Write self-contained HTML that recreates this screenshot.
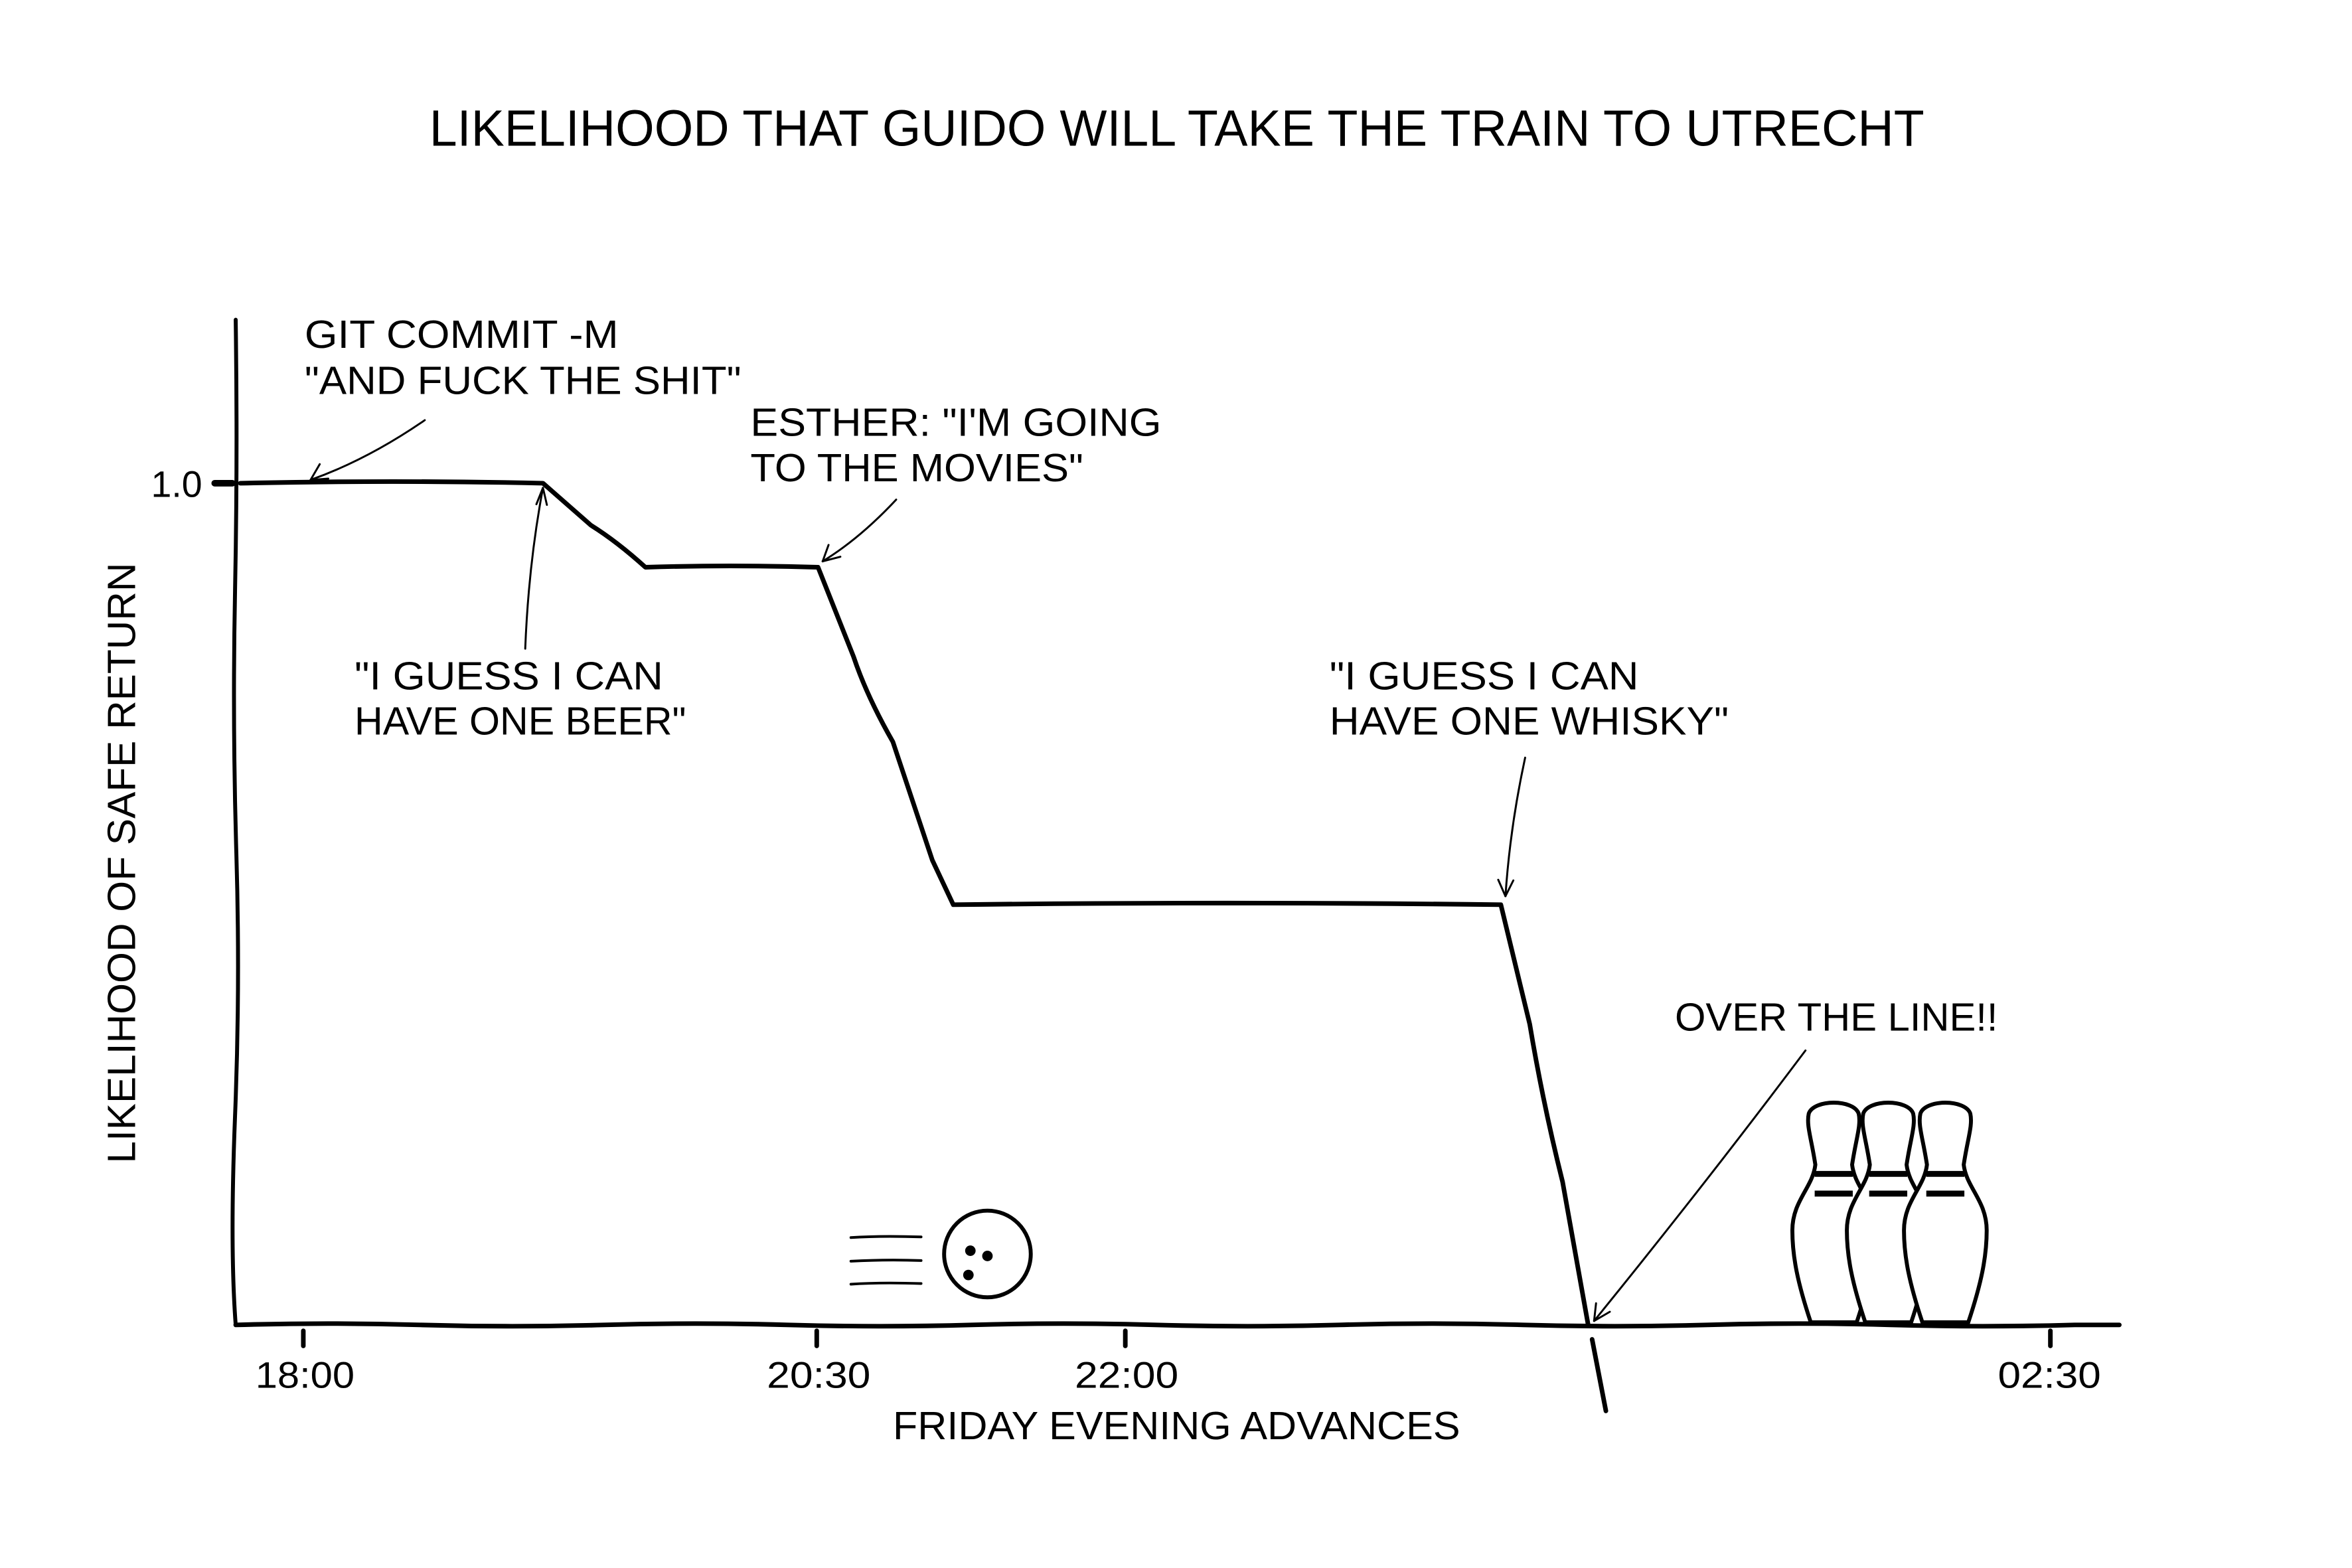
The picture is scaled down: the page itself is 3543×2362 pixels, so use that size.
<!DOCTYPE html>
<html><head><meta charset="utf-8"><style>
html,body{margin:0;padding:0;background:#fff;}
svg{display:block;}
text{font-family:"Liberation Sans",sans-serif;fill:#000;}
</style></head><body>
<svg width="3543" height="2362" viewBox="0 0 3543 2362" xmlns="http://www.w3.org/2000/svg">
<rect width="3543" height="2362" fill="#fff"/>
<defs>
<g id="pin">
<path d="M-35,0 C-55,-60 -63,-100 -63,-140 C-63,-185 -32,-205 -28,-240 C-34,-280 -42,-300 -38,-318 C-30,-340 30,-340 38,-318 C42,-300 34,-280 28,-240 C32,-205 63,-185 63,-140 C63,-100 55,-60 35,0 Z" fill="#fff" stroke="#000" stroke-width="6"/>
<path d="M-29,-226 H29 M-29,-196 H29" stroke="#000" stroke-width="9"/>
</g>
</defs>
<g transform="scale(0.989)">
<text x="654" y="222" font-size="78" textLength="2277" lengthAdjust="spacingAndGlyphs">LIKELIHOOD THAT GUIDO WILL TAKE THE TRAIN TO UTRECHT</text>

<g fill="none" stroke="#000" stroke-linecap="round" stroke-linejoin="round">
<path d="M359,487 Q362,700 358,900 T360,1300 T358,1700 T359,2018" stroke-width="6"/>
<path d="M359,2018 Q500,2014 640,2018 T920,2018 T1200,2018 T1480,2018 T1760,2018 T2040,2018 T2320,2018 T2600,2018 T2880,2018 T3160,2018 L3228,2018" stroke-width="7"/>
<path d="M327,736 H354" stroke-width="10"/>
<path d="M462,2027 V2050 M1244,2027 V2050 M1714,2027 V2050 M3123,2027 V2050" stroke-width="7"/>
<path d="M366,736 Q600,731 827,736 L900,800 Q940,825 983,864 Q1110,860 1246,864 L1300,1000 Q1320,1060 1360,1130 L1420,1310 L1452,1378 Q1870,1373 2286,1378 L2330,1560 Q2350,1680 2380,1800 L2419,2018" stroke-width="7"/>
<path d="M2425,2040 L2446,2149" stroke-width="7"/>
<g stroke-width="3">
<path d="M647,640 Q560,700 473,731"/><path d="M473,731 L487,707 M473,731 L500,729"/>
<path d="M800,988 Q805,860 827,743"/><path d="M827,743 L817,768 M827,743 L833,769"/>
<path d="M1365,761 Q1310,820 1253,855"/><path d="M1253,855 L1262,830 M1253,855 L1280,848"/>
<path d="M2323,1154 Q2300,1260 2293,1365"/><path d="M2293,1365 L2282,1340 M2293,1365 L2305,1341"/>
<path d="M2750,1600 Q2600,1800 2428,2012"/><path d="M2428,2012 L2431,1985 M2428,2012 L2452,1998"/>
</g>
<path d="M1296,1885 Q1340,1882 1403,1884 M1296,1921 Q1350,1918 1403,1920 M1296,1956 Q1340,1953 1403,1955" stroke-width="4"/>
<circle cx="1504" cy="1910" r="66" stroke-width="6"/>
</g>
<circle cx="1478" cy="1905" r="8" fill="#000"/>
<circle cx="1504" cy="1913" r="8" fill="#000"/>
<circle cx="1475" cy="1942" r="8" fill="#000"/>

<use href="#pin" x="2793" y="2014"/>
<use href="#pin" x="2876" y="2014"/>
<use href="#pin" x="2963" y="2014"/>

<text x="230" y="757" font-size="56" textLength="78" lengthAdjust="spacingAndGlyphs">1.0</text>
<text x="389" y="2114" font-size="56" textLength="151" lengthAdjust="spacingAndGlyphs">18:00</text>
<text x="1168" y="2114" font-size="56" textLength="158" lengthAdjust="spacingAndGlyphs">20:30</text>
<text x="1637" y="2114" font-size="56" textLength="158" lengthAdjust="spacingAndGlyphs">22:00</text>
<text x="3043" y="2114" font-size="56" textLength="157" lengthAdjust="spacingAndGlyphs">02:30</text>
<text x="1360" y="2192" font-size="60" textLength="864" lengthAdjust="spacingAndGlyphs">FRIDAY EVENING ADVANCES</text>
<text transform="translate(206,1772) rotate(-90)" font-size="60" textLength="915" lengthAdjust="spacingAndGlyphs">LIKELIHOOD OF SAFE RETURN</text>

<g font-size="60">
<text x="464" y="530" textLength="478" lengthAdjust="spacingAndGlyphs">GIT COMMIT -M</text>
<text x="464" y="600" textLength="665" lengthAdjust="spacingAndGlyphs">"AND FUCK THE SHIT"</text>
<text x="1143" y="664" textLength="626" lengthAdjust="spacingAndGlyphs">ESTHER: "I'M GOING</text>
<text x="1143" y="733" textLength="507" lengthAdjust="spacingAndGlyphs">TO THE MOVIES"</text>
<text x="540" y="1050" textLength="470" lengthAdjust="spacingAndGlyphs">"I GUESS I CAN</text>
<text x="540" y="1119" textLength="505" lengthAdjust="spacingAndGlyphs">HAVE ONE BEER"</text>
<text x="2025" y="1050" textLength="471" lengthAdjust="spacingAndGlyphs">"I GUESS I CAN</text>
<text x="2025" y="1119" textLength="608" lengthAdjust="spacingAndGlyphs">HAVE ONE WHISKY"</text>
<text x="2551" y="1570" textLength="492" lengthAdjust="spacingAndGlyphs">OVER THE LINE!!</text>
</g>
</g>
</svg>
</body></html>
